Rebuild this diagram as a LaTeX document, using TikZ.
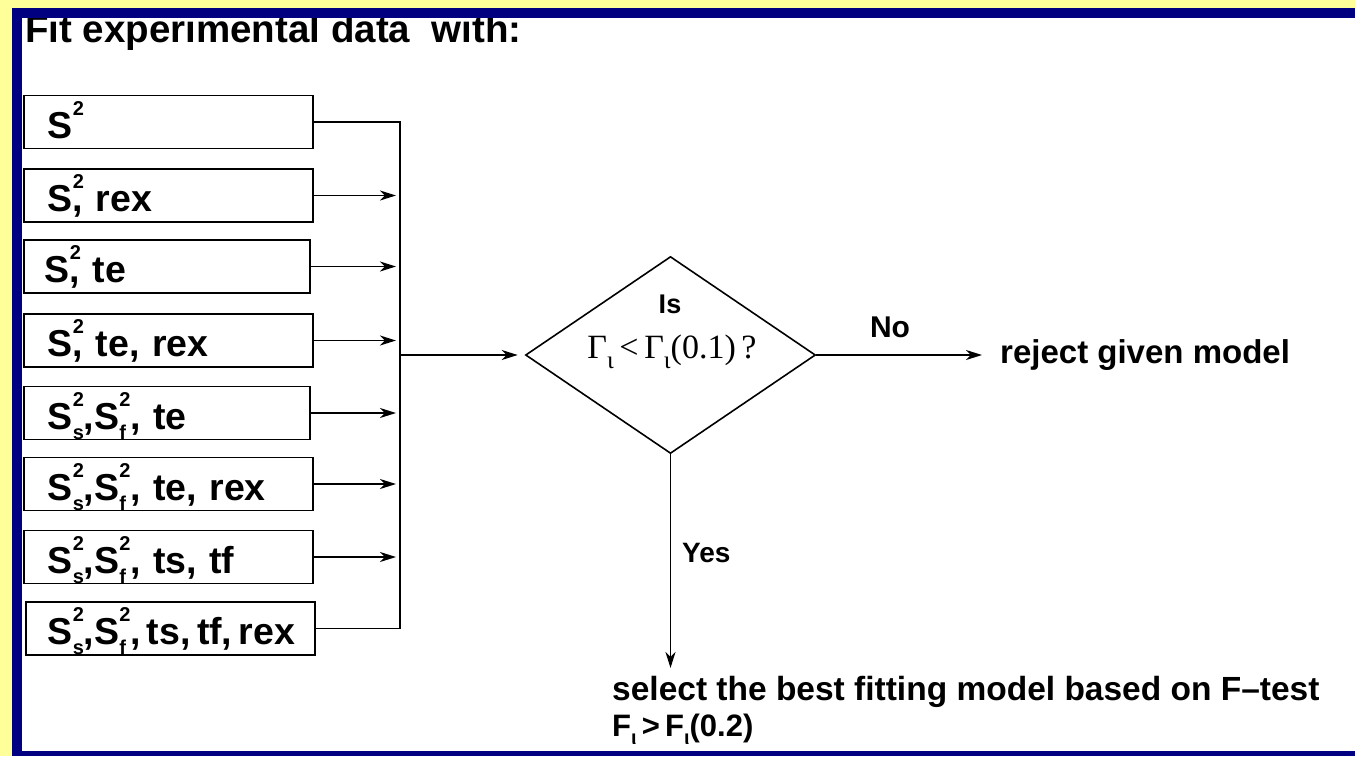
\documentclass[tikz,border=0pt]{standalone}
\usepackage{fontspec}
\setmainfont{Liberation Sans}
\newfontfamily\serifGr{Liberation Serif}
\usetikzlibrary{shapes.geometric,arrows.meta}
\definecolor{bgyellow}{HTML}{FFFF99}
\definecolor{framenavy}{HTML}{000080}
\newcommand{\supfnt}{\fontsize{20}{20}\selectfont}
\newcommand{\sqr}{\rlap{\raisebox{23pt}{\supfnt 2}}}
\newcommand{\sqsub}[1]{\makebox[11pt][l]{\rlap{\raisebox{23pt}{\supfnt 2}}\raisebox{-10pt}{\supfnt #1}}}
\newcommand{\iotasub}{\raisebox{-8pt}{\fontsize{20}{20}\selectfont ι}}
\newcommand{\iotasubser}{\raisebox{-10pt}{\fontsize{25}{25}\selectfont ι}}
\tikzset{
  box/.style={draw, line width=1.8pt, anchor=west, inner xsep=0pt, inner ysep=0pt,
    text width=289pt, align=left, text height=32pt, text depth=0pt, minimum height=53pt,
    font=\fontsize{37.5}{40}\selectfont\bfseries},
  conn/.style={line width=1.8pt},
  arr/.style={line width=1.8pt, -{Stealth[length=16pt,width=10pt,inset=5pt]}},
  lbl/.style={inner sep=0pt, font=\fontsize{30}{30}\selectfont\bfseries}
}
\begin{document}
\begin{tikzpicture}[x=1pt,y=-1pt]
\useasboundingbox (0,0) rectangle (1355,756);
\fill[bgyellow] (0,0) rectangle (1355,756);
\fill[white] (22,18) rectangle (1355,751);
% title
\node[anchor=base west, inner sep=0pt, font=\fontsize{38.5}{40}\selectfont\bfseries] (title) at (25,42) {Fit experimental data\ \ with:};
% boxes
\node[box] (b1) at (23,122) {\hspace*{24pt}S\sqr};
\node[box] (b2) at (23,195.5) {\hspace*{24pt}S\sqr, rex};
\node[box, text width=286pt] (b3) at (23,266.5) {\hspace*{21pt}S\sqr, te};
\node[box] (b4) at (23,340.5) {\hspace*{24pt}S\sqr, te, rex};
\node[box, text width=286pt] (b5) at (23,413) {\hspace*{24pt}S\sqsub{s},S\sqsub{f}, te};
\node[box] (b6) at (23,484) {\hspace*{24pt}S\sqsub{s},S\sqsub{f}, te, rex};
\node[box] (b7) at (23,557) {\hspace*{24pt}S\sqsub{s},S\sqsub{f}, ts, tf};
\node[box] (b8) at (25,628.5) {\hspace*{22pt}S\sqsub{s},S\sqsub{f},\,ts,\,tf,\,rex};
% bus
\coordinate (bus) at (400,355);
\draw[conn] (b1.east) -| (bus) |- (b8.east);
\foreach \b in {b2,b3,b4,b5,b6,b7}{
  \draw[arr, shorten >=4pt] (\b.east) -- (\b.east -| bus);
}
% decision
\node[diamond, draw, line width=1.6pt, minimum width=290pt, minimum height=197pt, inner sep=0pt] (d) at (670.5,355) {};
\node[anchor=base, inner sep=0pt, font=\fontsize{27}{27}\selectfont\bfseries] (is) at (670,313) {Is};
\node[anchor=base, inner sep=0pt, font=\fontsize{34}{34}\selectfont\serifGr] (cond) at (672,358) {Γ\iotasubser\,<\,Γ\iotasubser(0.1)\,?};
\draw[arr, shorten >=7pt] (bus) -- (d.west);
% No branch
\coordinate (notip) at (982,355);
\draw[arr] (d.east) -- (notip);
\node[lbl, anchor=base] (no) at (890,337) {No};
\node[lbl, anchor=base west, font=\fontsize{33}{33}\selectfont\bfseries] (rej) at (1000,363) {reject given model};
% Yes branch
\coordinate (ytip) at (670.5,668);
\draw[arr] (d.south) -- (ytip);
\node[lbl, anchor=base west, font=\fontsize{28}{28}\selectfont\bfseries] (yes) at (682,562) {Yes};
\node[lbl, anchor=base west, font=\fontsize{33.5}{33.5}\selectfont\bfseries] (sel) at (612,700) {select the best fitting model based on F–test};
\node[lbl, anchor=base west, font=\fontsize{31}{31}\selectfont\bfseries] (ftest) at (612,736) {F\iotasub\,>\,F\iotasub(0.2)};
% frame bands
\fill[framenavy] (12,8) rectangle (1355,18);
\fill[framenavy] (12,8) rectangle (22,756);
\fill[framenavy] (12,751) rectangle (1355,756);
\end{tikzpicture}
\end{document}
